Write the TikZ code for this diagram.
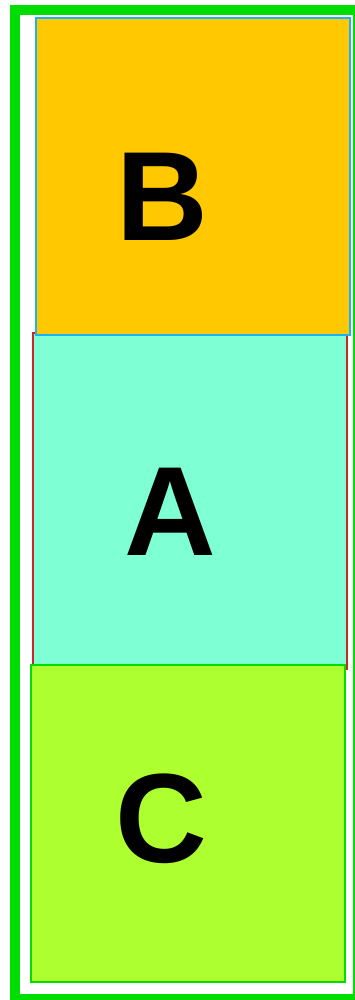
\documentclass[tikz,border=0pt]{standalone}
\usepackage{fontspec}
\setmainfont{Liberation Sans}
\usepackage{tikz}
\usetikzlibrary{positioning}
\definecolor{frameGreen}{HTML}{00DD00}
\definecolor{boxGold}{HTML}{FFC800}
\definecolor{boxSky}{HTML}{1AB2F2}
\definecolor{boxAqua}{HTML}{7FFFD4}
\definecolor{boxRed}{HTML}{C82828}
\definecolor{boxLime}{HTML}{ADFF2F}

\begin{document}
\begin{tikzpicture}[x=1pt, y=-1pt,
  panel/.style={rectangle, line width=2pt, minimum width=314pt, inner sep=0pt},
  letter/.style={inner sep=0pt, font=\fontsize{127}{127}\selectfont\bfseries}]

\useasboundingbox (0,0) rectangle (355,1000);
\draw[frameGreen, line width=10pt] (15,10) rectangle (358,999);

\node[panel, draw=boxRed, fill=boxAqua, minimum height=336pt] (boxA) at (189.8,501) {};
\node[panel, draw=boxSky, fill=boxGold, minimum height=317pt] (boxB) at (193,176.5) {};
\node[panel, draw=frameGreen, fill=boxLime, minimum height=317pt] (boxC) at (188,823.5) {};

\node[letter] (lblB) at (162,197) {B};
\node[letter] (lblA) at (170.5,512) {A};
\node[letter] (lblC) at (161,819) {C};
\end{tikzpicture}
\end{document}
